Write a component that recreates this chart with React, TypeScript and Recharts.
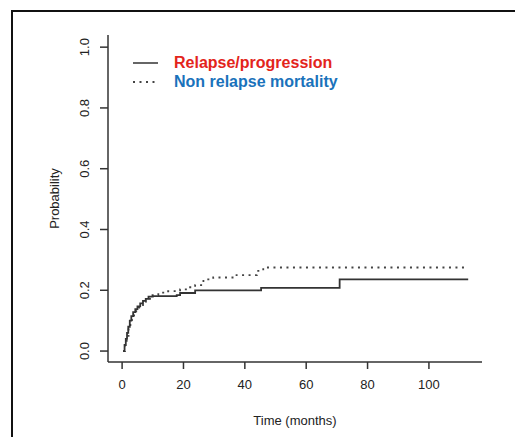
import React from 'react';
import { LineChart, Line, XAxis, YAxis, Legend } from 'recharts';

const relapseTimes = [0.3, 0.8, 1.2, 1.6, 2.0, 2.5, 3.0, 3.6, 4.3, 5.0, 5.9, 6.8, 7.7, 8.6, 10.0, 17.8, 18.9, 23.8, 45.3, 70.9, 112.8];
const relapseProb = [0.0, 0.02, 0.04, 0.06, 0.08, 0.1, 0.115, 0.128, 0.138, 0.147, 0.157, 0.165, 0.172, 0.179, 0.181, 0.184, 0.191, 0.2, 0.208, 0.236, 0.236];

const nrmTimes = [0.3, 0.9, 1.5, 2.1, 2.7, 3.2, 3.9, 4.6, 5.3, 5.9, 6.8, 7.7, 9.1, 11.8, 15.0, 18.9, 21.5, 23.8, 26.5, 29.7, 37.3, 43.9, 46.0, 112.8];
const nrmProb = [0.0, 0.025, 0.05, 0.075, 0.095, 0.112, 0.125, 0.135, 0.143, 0.151, 0.162, 0.172, 0.184, 0.192, 0.197, 0.203, 0.21, 0.217, 0.236, 0.242, 0.25, 0.264, 0.275, 0.275];

const xTicks = [0, 20, 40, 60, 80, 100];
const yTicks = [0, 0.2, 0.4, 0.6, 0.8, 1.0];

const seriesNames = ['Relapse/progression', 'Non relapse mortality'];

const relapseData = relapseTimes.map((x, i) => ({ x, y: relapseProb[i] }));
const nrmData = nrmTimes.map((x, i) => ({ x, y: nrmProb[i] }));

const FONT = '"Liberation Sans", Arial, Helvetica, sans-serif';

const YTick = (props: any) => {
  const { y, payload } = props;
  const x = 84;
  return (
    <text
      x={x}
      y={y}
      dy="0.35em"
      textAnchor="middle"
      transform={`rotate(-90, ${x}, ${y})`}
      fill="#222"
      fontSize={13}
      fontFamily={FONT}
    >
      {Number(payload.value).toFixed(1)}
    </text>
  );
};

const LegendContent = () => (
  <div style={{ fontFamily: FONT, fontWeight: 'bold', fontSize: 16 }}>
    <div style={{ display: 'flex', alignItems: 'center', height: 19 }}>
      <svg width={41} height={10}>
        <line x1={0} y1={5} x2={25} y2={5} stroke="#333" strokeWidth={1.5} />
      </svg>
      <span style={{ color: '#e3241b', lineHeight: '19px' }}>{seriesNames[0]}</span>
    </div>
    <div style={{ display: 'flex', alignItems: 'center', height: 19 }}>
      <svg width={41} height={10}>
        <line x1={0} y1={5} x2={25} y2={5} stroke="#444" strokeWidth={1.8} strokeDasharray="2 4.5" />
      </svg>
      <span style={{ color: '#1a72bb', lineHeight: '19px' }}>{seriesNames[1]}</span>
    </div>
  </div>
);

export default function App() {
  return (
    <div style={{ position: 'absolute', left: 0, top: 0, width: 515, height: 437, overflow: 'hidden', background: '#fff' }}>
      <div
        style={{
          position: 'absolute',
          left: 11,
          top: 10,
          width: 600,
          height: 600,
          borderTop: '2px solid #111',
          borderLeft: '2px solid #111',
        }}
      />
      <div style={{ position: 'absolute', left: 0, top: 0 }}>
        <LineChart width={515} height={437} margin={{ top: 35, right: 33, bottom: 0, left: 0 }}>
          <XAxis
            dataKey="x"
            type="number"
            domain={[-4.6, 117.3]}
            ticks={xTicks}
            allowDataOverflow
            height={75}
            stroke="#333"
            strokeWidth={1.5}
            tickSize={7}
            tickMargin={11}
            tick={{ fill: '#222', fontSize: 13, fontFamily: FONT }}
            label={{ value: 'Time (months)', position: 'insideBottom', offset: 12, fill: '#222', fontSize: 13, fontFamily: FONT }}
          />
          <YAxis
            dataKey="y"
            type="number"
            domain={[-0.036, 1.04]}
            ticks={yTicks}
            allowDataOverflow
            width={108}
            stroke="#333"
            strokeWidth={1.5}
            tickSize={8}
            tick={<YTick />}
            label={{ value: 'Probability', angle: -90, position: 'center', fill: '#222', fontSize: 13, fontFamily: FONT }}
          />
          <Legend
            layout="horizontal"
            verticalAlign="middle"
            align="center"
            content={<LegendContent />}
            wrapperStyle={{ position: 'absolute', left: 133, top: 53, width: 260, height: 38 }}
          />
          <Line
            data={nrmData}
            dataKey="y"
            name={seriesNames[1]}
            type="stepAfter"
            stroke="#444"
            strokeWidth={1.8}
            strokeDasharray="2 4.5"
            dot={false}
            isAnimationActive={false}
          />
          <Line
            data={relapseData}
            dataKey="y"
            name={seriesNames[0]}
            type="stepAfter"
            stroke="#333"
            strokeWidth={1.8}
            dot={false}
            isAnimationActive={false}
          />
        </LineChart>
      </div>
    </div>
  );
}
